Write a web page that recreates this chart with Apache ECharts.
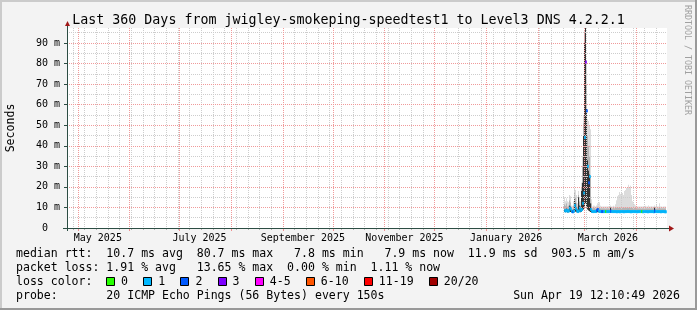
<!DOCTYPE html>
<html><head><meta charset="utf-8">
<script src="https://cdn.jsdelivr.net/npm/echarts@6/dist/echarts.min.js"></script>
<style>html,body{margin:0;padding:0;background:#f3f3f3}#c{width:697px;height:310px}</style>
</head><body><div id="c"></div>
<script>
// ---------------- data ----------------
const titleText = 'Last 360 Days from jwigley-smokeping-speedtest1 to Level3 DNS 4.2.2.1';
const graphEnd = Date.UTC(2026, 3, 19, 12, 10, 49);
const graphDays = 360;
const xTickLabels = ['May 2025', 'July 2025', 'September 2025', 'November 2025', 'January 2026', 'March 2026'];
const xLabelDates = ['2025-05-13', '2025-07-13', '2025-09-13', '2025-11-13', '2026-01-13', '2026-03-15'];
const yMax = 97.3;            // ms, top of the plot
const yUnitLabel = 'Seconds';

// RRD samples: one consolidated value per 14.4 h step
const rrdFirst = Date.UTC(2026, 1, 17, 7, 0);
const rrdStepHours = 14.4;

const medianRtt = [8.4,8.3,8.6,8.2,8.3,9.7,9.2,8.0,7.9,8.2,
  11.0,9.5,8.4,8.0,8.3,9.7,8.5,9.0,12.0,17.0,
  44.0,80.7,57.0,30.0,22.0,25.0,9.0,8.1,8.0,8.0,
  8.1,8.0,8.6,9.0,8.2,8.1,8.0,8.0,8.0,8.0,
  8.0,8.0,8.0,8.0,8.0,8.0,8.2,8.0,8.0,8.0,
  8.0,8.0,7.9,8.0,8.0,7.9,8.0,8.0,8.0,7.9,
  8.0,8.0,8.0,8.1,8.0,8.0,7.9,8.0,8.0,8.0,
  8.0,8.0,7.9,8.0,8.0,8.0,8.0,8.0,7.9,8.0,
  8.0,8.0,8.0,7.9,8.0,8.0,8.0,8.0,8.0,7.9,
  8.2,8.0,8.0,8.0,8.0,8.0,7.9,8.0,8.0,8.0,
  7.9,7.9];
const lostPings = [1,1,1,1,1,1,1,1,2,1,
  1,1,1,1,1,1,1,1,1,1,
  1,3,2,1,2,1,1,1,1,1,
  1,1,2,2,1,1,1,2,2,1,
  1,0,1,1,1,1,2,1,1,1,
  1,1,1,1,1,1,1,1,1,1,
  1,1,1,1,1,1,1,1,1,1,
  1,1,1,1,1,1,1,0,1,1,
  1,1,1,1,1,1,1,1,1,1,
  2,1,1,1,1,1,1,1,1,1,
  1,1];
const pingMin = [7.8,7.7,7.8,7.6,7.7,7.9,7.8,7.5,7.4,7.6,
  8.0,7.9,7.7,7.5,7.6,7.9,7.7,7.8,8.5,9.0,
  10.0,12.0,10.0,9.0,8.5,8.2,7.8,7.6,7.5,7.5,
  7.6,7.5,7.6,7.7,7.6,7.5,7.5,7.5,7.5,7.5,
  7.5,7.5,7.5,7.5,7.5,7.5,7.3,7.5,7.5,7.5,
  7.5,7.5,7.4,7.5,7.5,7.4,7.5,7.5,7.5,7.4,
  7.5,7.5,7.5,7.5,7.5,7.5,7.4,7.5,7.5,7.5,
  7.5,7.5,7.4,7.5,7.5,7.5,7.5,7.5,7.4,7.5,
  7.5,7.5,7.5,7.4,7.5,7.5,7.5,7.5,7.5,7.4,
  7.3,7.5,7.5,7.5,7.5,7.5,7.4,7.5,7.5,7.5,
  7.4,7.4];
const pingCoreTop = [9.0,9.0,9.5,9.0,9.0,11.0,10.5,8.6,8.5,9.0,
  14.0,12.0,9.5,9.0,15.0,11.0,9.5,18.0,22.0,45.0,
  90.0,97.3,58.0,33.0,28.0,26.0,12.0,8.8,8.4,8.4,
  8.5,8.4,9.0,9.5,8.6,8.5,8.4,8.4,8.4,8.4,
  8.4,8.4,8.4,8.4,8.4,8.4,9.8,8.4,8.4,8.4,
  8.4,8.4,8.4,8.4,8.4,8.4,8.4,8.4,8.4,8.4,
  8.4,8.4,8.4,8.5,8.4,8.4,8.4,8.4,8.4,8.4,
  8.4,8.4,8.4,8.4,8.4,8.4,8.4,8.4,8.4,8.4,
  8.4,8.4,8.4,8.4,8.4,8.4,8.4,8.4,8.4,8.4,
  9.8,8.4,8.4,8.4,8.4,8.4,8.4,8.4,8.4,8.4,
  8.4,8.4];
const pingMidTop = [11.5,11.0,12.0,10.5,11.0,13.5,12.5,9.5,9.5,11.0,
  17.0,15.0,12.0,10.5,16.0,13.0,11.0,20.0,30.0,51.0,
  95.0,97.3,70.0,45.0,40.0,35.0,25.0,12.0,9.6,9.8,
  9.8,9.5,10.0,10.5,10.0,10.0,9.6,9.6,9.6,9.6,
  9.6,9.5,9.6,9.6,9.6,9.6,10.2,9.6,9.6,9.7,
  9.6,9.8,10.0,10.0,10.0,10.0,10.0,10.0,10.0,10.0,
  10.0,10.0,10.0,10.0,10.0,10.0,10.0,10.0,9.8,9.8,
  9.8,9.7,9.6,9.6,9.6,9.6,9.6,9.5,9.6,9.6,
  9.6,9.6,9.6,9.6,9.6,9.6,9.6,9.6,9.6,9.6,
  10.2,9.6,9.6,9.6,9.6,9.8,9.6,9.6,9.6,9.6,
  9.6,9.6];
const pingMax = [15.0,13.0,14.5,13.0,12.5,16.0,15.5,11.0,10.8,13.0,
  19.0,18.5,16.0,12.0,18.0,15.0,13.0,22.0,35.0,55.0,
  96.0,97.3,80.0,53.0,52.0,50.0,48.0,14.0,10.5,11.0,
  10.8,10.5,11.0,12.0,12.0,12.5,10.8,10.5,10.5,10.5,
  10.5,10.5,10.5,10.5,10.6,10.5,11.0,10.5,10.5,10.8,
  10.5,11.5,13.5,15.5,16.0,17.5,16.5,17.0,17.0,16.0,
  18.0,18.5,19.5,20.0,21.0,19.5,20.5,16.0,13.0,12.0,
  11.5,11.0,10.5,10.5,10.5,10.5,10.5,10.5,10.5,10.6,
  10.5,10.8,10.5,10.5,11.0,10.5,10.5,10.6,10.5,10.5,
  11.0,10.5,11.5,10.5,10.5,12.0,10.5,10.5,10.3,10.5,
  10.5,10.5];

const lossBins = ['0', '1', '2', '3', '4-5', '6-10', '11-19', '20/20'];
const lossBinLow = [0, 1, 2, 3, 4, 6, 11, 20];
const lossColors = ['#26ff00', '#00b8ff', '#0059ff', '#7e00ff', '#ff00ff', '#ff5500', '#ff0000', '#a00000'];

const legendRtt = 'median rtt:  10.7 ms avg  80.7 ms max   7.8 ms min   7.9 ms now  11.9 ms sd  903.5 m am/s';
const legendLoss = 'packet loss: 1.91 % avg   13.65 % max  0.00 % min  1.11 % now';
const legendLossColor = 'loss color:';
const legendProbe = 'probe:       20 ICMP Echo Pings (56 Bytes) every 150s';
const legendStamp = 'Sun Apr 19 12:10:49 2026';
const watermark = 'RRDTOOL / TOBI OETIKER';

// ---------------- build ----------------
const DAY = 86400000;
const graphStart = graphEnd - graphDays * DAY;
const mono = '"DejaVu Sans Mono", monospace';
const G = {left: 67, top: 28, width: 600, height: 200};
const axisY = G.top + G.height;
const smokeColors = ['#333333', '#b4b4b4', '#dcdcdc'];

const stepMs = rrdStepHours * 3600000;
const times = medianRtt.map((_, i) => rrdFirst + i * stepMs);
function binOf(n) { let k = 0; lossBinLow.forEach((lo, j) => { if (n >= lo) k = j; }); return k; }

// calendar grid: Mondays (minor) and month starts (major)
const weekStarts = [];
{ let d = new Date(graphStart); d = Date.UTC(d.getUTCFullYear(), d.getUTCMonth(), d.getUTCDate());
  while (new Date(d).getUTCDay() !== 1 || d < graphStart) d += DAY;
  for (; d <= graphEnd; d += 7 * DAY) weekStarts.push(d); }
const monthStarts = [];
{ const s = new Date(graphStart); let y = s.getUTCFullYear(), m = s.getUTCMonth() + 1;
  for (;;) { const t = Date.UTC(y, m, 1); if (t > graphEnd) break; monthStarts.push(t); m++; if (m > 11) { m = 0; y++; } } }
const labelValues = xLabelDates.map(s => Date.parse(s));

const smokeData = times.map((t, i) => [t, pingMin[i], pingCoreTop[i], pingMidTop[i], pingMax[i]]);
const medianPts = times.map((t, i) => [t, medianRtt[i], lostPings[i]]);

const CW = 6.955; // char advance of 11.55px mono
const legendFont = '11.55px ' + mono;
const els = [];
// 3D frame
els.push({type: 'rect', shape: {x: 0, y: 0, width: 697, height: 2}, style: {fill: '#cbcbcb'}, silent: true});
els.push({type: 'rect', shape: {x: 0, y: 0, width: 2, height: 310}, style: {fill: '#cbcbcb'}, silent: true});
els.push({type: 'rect', shape: {x: 0, y: 308, width: 697, height: 2}, style: {fill: '#999999'}, silent: true});
els.push({type: 'rect', shape: {x: 695, y: 0, width: 2, height: 310}, style: {fill: '#999999'}, silent: true});
// axis extensions and arrows
els.push({type: 'line', z: 10, shape: {x1: G.left - 4, y1: axisY + 0.5, x2: G.left + G.width + 3, y2: axisY + 0.5}, style: {stroke: '#2c4d43', lineWidth: 1}, silent: true});
els.push({type: 'line', z: 10, shape: {x1: G.left + 0.5, y1: axisY + 3, x2: G.left + 0.5, y2: G.top - 4}, style: {stroke: '#2c4d43', lineWidth: 1}, silent: true});
els.push({type: 'polygon', z: 11, shape: {points: [[G.left + G.width + 2, axisY - 2.5], [G.left + G.width + 2, axisY + 3.5], [G.left + G.width + 7, axisY + 0.5]]}, style: {fill: '#a01818'}, silent: true});
els.push({type: 'polygon', z: 11, shape: {points: [[G.left - 2, G.top - 2], [G.left + 3, G.top - 2], [G.left + 0.5, G.top - 7]]}, style: {fill: '#a01818'}, silent: true});
// side texts
els.push({type: 'text', x: 11, y: G.top + G.height / 2, rotation: Math.PI / 2, style: {text: yUnitLabel, font: legendFont, fill: '#000', align: 'center', verticalAlign: 'middle'}, silent: true});
els.push({type: 'text', x: 687, y: 60, rotation: -Math.PI / 2, style: {text: watermark, font: '8.3px ' + mono, fill: '#a0a0a0', align: 'center', verticalAlign: 'middle'}, silent: true});
// legend lines
const LX = 16;
[[legendRtt, 254.4], [legendLoss, 268.4], [legendLossColor, 282], [legendProbe, 296.2]].forEach(([t, y]) => {
  els.push({type: 'text', x: LX, y, style: {text: t, font: legendFont, fill: '#000', align: 'left', verticalAlign: 'middle'}, silent: true});
});
els.push({type: 'text', x: 680, y: 296.2, style: {text: legendStamp, font: legendFont, fill: '#000', align: 'right', verticalAlign: 'middle'}, silent: true});
{ let bx = LX + 13 * CW - 0.3;
  lossBins.forEach((lab, k) => {
    els.push({type: 'rect', shape: {x: Math.round(bx) + 0.5, y: 277.5, width: 8, height: 8}, style: {fill: lossColors[k], stroke: '#000', lineWidth: 1}, silent: true});
    els.push({type: 'text', x: bx + 15, y: 282, style: {text: lab, font: legendFont, fill: '#000', align: 'left', verticalAlign: 'middle'}, silent: true});
    bx += 15 + lab.length * CW + 15.2;
  });
}

function renderSmoke(params, api) {
  const t = api.value(0);
  const xa = Math.round(api.coord([t - stepMs / 2, 0])[0]);
  const xb = Math.round(api.coord([t + stepMs / 2, 0])[0]);
  const w = Math.max(1, xb - xa);
  const ys = [1, 2, 3, 4].map(k => api.coord([t, api.value(k)])[1]);
  const band = (lo, hi, fill) => ({type: 'rect', shape: {x: xa, y: ys[hi], width: w, height: Math.max(0, ys[lo] - ys[hi])}, style: {fill}});
  return {type: 'group', children: [band(2, 3, smokeColors[2]), band(1, 2, smokeColors[1]), band(0, 1, smokeColors[0])]};
}

const option = {
  animation: false,
  backgroundColor: '#f3f3f3',
  title: {text: titleText, left: 'center', top: 14.3, padding: 0,
    textStyle: {fontFamily: mono, fontSize: 13.3, fontWeight: 'normal', color: '#000'}},
  grid: {left: G.left, top: G.top, width: G.width, height: G.height, show: true, backgroundColor: '#ffffff', borderWidth: 0, outerBoundsMode: 'none'},
  xAxis: [
    {type: 'value', min: graphStart, max: graphEnd, position: 'bottom', z: 3,
      axisLine: {show: true, onZero: false, lineStyle: {color: '#2c4d43'}},
      axisTick: {show: true, length: 2, customValues: weekStarts, lineStyle: {color: '#b0b0b0'}},
      axisLabel: {customValues: labelValues, formatter: v => xTickLabels[labelValues.indexOf(v)] || '',
        margin: 5, fontFamily: mono, fontSize: 10, color: '#000'},
      splitLine: {show: true, lineStyle: {color: '#cdcdcd', type: [1, 1], width: 1}}},
    {type: 'value', min: graphStart, max: graphEnd, position: 'bottom', z: 4,
      axisLine: {show: false},
      axisTick: {show: true, length: 3, customValues: monthStarts, lineStyle: {color: '#ee9090'}},
      axisLabel: {show: false},
      splitLine: {show: true, lineStyle: {color: '#f09a9a', type: [1, 1], width: 1}}}
  ],
  yAxis: [
    {type: 'value', min: 0, max: yMax, interval: 10, z: 4,
      axisLine: {show: true, lineStyle: {color: '#2c4d43'}},
      axisTick: {show: true, length: 3, lineStyle: {color: '#2c4d43'}},
      axisLabel: {showMaxLabel: false, margin: 7, fontFamily: mono, fontSize: 10, color: '#000',
        formatter: v => (v === 0 ? '0  ' : v + ' m')},
      splitLine: {show: true, showMinLine: false, showMaxLine: false, lineStyle: {color: '#f09a9a', type: [1, 1], width: 1}}},
    {type: 'value', min: 0, max: yMax, interval: 5, z: 3,
      axisLine: {show: false}, axisTick: {show: false}, axisLabel: {show: false},
      splitLine: {show: true, showMinLine: false, showMaxLine: false, lineStyle: {color: '#cdcdcd', type: [1, 1], width: 1}}}
  ],
  series: [
    {type: 'custom', name: 'smoke', data: smokeData, xAxisIndex: 0, yAxisIndex: 0, z: 2, silent: true, clip: true,
      encode: {x: 0, y: [1, 2, 3, 4]}, renderItem: renderSmoke},
    {type: 'scatter', name: 'median rtt', data: medianPts, symbol: 'rect', symbolSize: [2, 3], z: 6, silent: true,
      xAxisIndex: 0, yAxisIndex: 0,
      itemStyle: {color: p => lossColors[binOf(p.data[2])]}}
  ],
  graphic: {elements: els}
};

const chart = echarts.init(document.getElementById('c'), null, {renderer: 'canvas', width: 697, height: 310});
chart.setOption(option);
</script>
</body></html>
